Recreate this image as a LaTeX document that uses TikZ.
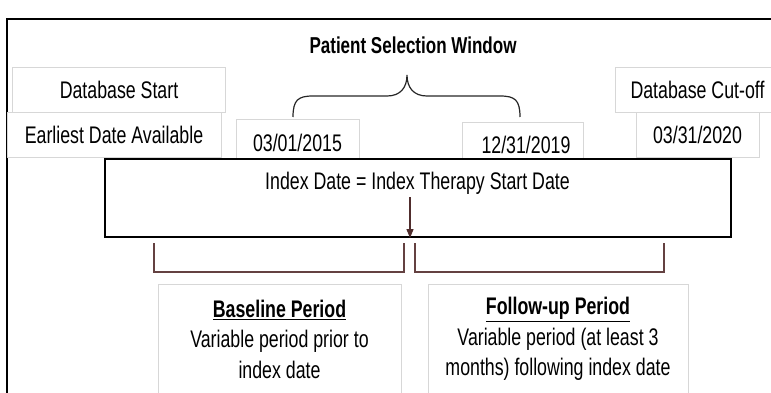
\documentclass[tikz,border=0pt]{standalone}
\usepackage{fontspec}
\setmainfont{Liberation Sans}[FakeStretch=0.74]
\usetikzlibrary{arrows.meta}
\definecolor{boxgray}{RGB}{215,215,215}
\definecolor{brk}{RGB}{100,65,65}
\definecolor{arrc}{RGB}{80,45,45}
\tikzset{
  txt/.style={font=\fontsize{24}{30.5}\selectfont, inner sep=0pt, align=center},
  gbox/.style={draw=boxgray, line width=0.9pt, fill=white, inner sep=0pt},
  bracket/.style={draw=brk, line width=1.3pt},
  arr/.style={draw=arrc, line width=1.3pt, -{Triangle[length=9pt,width=7pt]}},
}
\begin{document}
\begin{tikzpicture}[x=1pt,y=-1pt]
\useasboundingbox (0,0) rectangle (771,393);
% outer frame (cropped)
\draw[line width=1.8pt] (7,400) -- (7,19) -- (780,19);
% title
\node[txt, font=\fontsize{23}{30.5}\selectfont\bfseries] (title) at (413,45) {Patient Selection Window};
% brace
\draw[line width=1.2pt, black!85] (293,117) .. controls (293,100) and (298,96) .. (313,96) -- (387,96)
  .. controls (400,96) and (407,88) .. (407,75)
  .. controls (407,88) and (414,96) .. (427,96) -- (500,96)
  .. controls (515,96) and (520,100) .. (520,117);
% top boxes
\node[gbox, minimum width=213, minimum height=45] (dbs) at (118.5,89.5) {};
\node[txt] (dbst) at (119,90) {Database Start};
\node[gbox, minimum width=214, minimum height=45] (ear) at (114,134.5) {};
\node[txt] (eart) at (114,135) {Earliest Date Available};
\node[gbox, minimum width=123, minimum height=46] (d1) at (297.5,142) {};
\node[txt] (d1t) at (297.5,143) {03/01/2015};
\node[gbox, minimum width=121, minimum height=45] (d2) at (522.5,144.5) {};
\node[txt] (d2t) at (526,145) {12/31/2019};
\node[gbox, minimum width=165, minimum height=45] (cut) at (697.5,89.5) {};
\node[txt] (cutt) at (697.5,90) {Database Cut-off};
\node[gbox, minimum width=123, minimum height=45] (d3) at (697.5,134.5) {};
\node[txt] (d3t) at (697.5,135) {03/31/2020};
% index box
\node[draw, line width=2pt, fill=white, minimum width=626, minimum height=78, inner sep=0pt] (idx) at (418,198) {};
\node[txt] (idxt) at (417.5,183) {Index Date = Index Therapy Start Date};
\coordinate (astart) at (410,197);
\draw[arr] (astart) -- (astart |- idx.south);
% brackets
\draw[bracket] (154,243) -- (154,272) -- (404,272) -- (404,243);
\draw[bracket] (415,243) -- (415,272) -- (664,272) -- (664,243);
% bottom boxes
\node[gbox, minimum width=243, minimum height=114] (base) at (279.5,341) {};
\node[txt] (baset) at (279.5,339) {\textbf{\underline{Baseline Period}}\\Variable period prior to\\index date};
\node[gbox, minimum width=260, minimum height=114] (fol) at (558,341) {};
\node[txt] (folt) at (558,339) {\textbf{\underline{Follow-up Period}}\\Variable period (at least 3\\months) following index date};
\end{tikzpicture}
\end{document}
